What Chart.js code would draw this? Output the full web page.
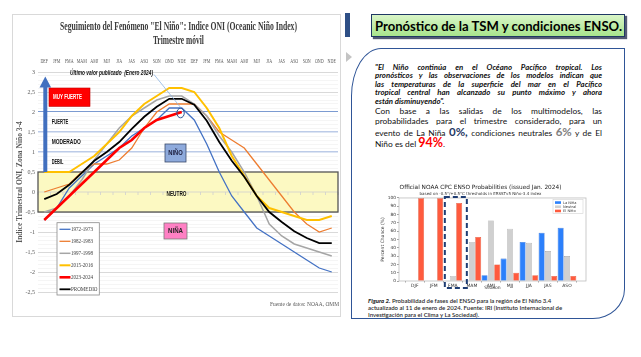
<!DOCTYPE html>
<html><head><meta charset="utf-8">
<script src="https://cdn.jsdelivr.net/npm/chart.js@4.4.1/dist/chart.umd.min.js"></script>
<style>
html,body{margin:0;padding:0;background:#fff;width:641px;height:357px;overflow:hidden;position:relative}
.abs{position:absolute}
.jl{position:absolute;left:375px;width:227px;white-space:nowrap;text-align:justify;text-align-last:justify;line-height:10px;height:10px;font-family:Lato,sans-serif;color:#111}
.ll{position:absolute;left:375px;white-space:nowrap;line-height:10px;height:10px;font-family:Lato,sans-serif;color:#111}
.p1{font-size:7.8px;font-weight:bold;font-style:italic}
.p2{font-size:8.4px}
.cap{position:absolute;left:368px;white-space:nowrap;font-family:Lato,sans-serif;font-size:6px;line-height:7px;height:7px;color:#2a2a2a;font-weight:600}
.big{line-height:10px;font-weight:bold}
</style></head><body>
<canvas id="oni" width="345" height="357" class="abs" style="left:0;top:0"></canvas>
<div class="abs" style="left:345px;top:13px;width:5px;height:24px;background:#2e4f86"></div>
<div class="abs" style="left:346px;top:52px;width:0;height:0;border-left:6px solid #c4c4c4;border-top:5px solid transparent;border-bottom:5px solid transparent"></div>
<div id="tbox" class="abs" style="left:371px;top:14px;width:254px;height:23px;box-sizing:border-box;border:1.5px solid #1f3864;background:linear-gradient(#d9f5c8,#a8e48c);box-shadow:2px 2px 1px rgba(25,35,70,.75);padding-left:2.5px;padding-top:2px;line-height:18px;white-space:nowrap;overflow:visible"><span id="ttxt" style="display:inline-block;font:bold 13px Lato,sans-serif;color:#000;transform-origin:left center">Pronóstico de la TSM y condiciones ENSO.</span></div>
<div class="abs" style="left:351px;top:48px;width:272px;height:269px;border:1.6px solid #2f5597;border-radius:30px 0 32px 0 / 48px 0 30px 0;background:#fff"></div>

<div class="jl p1" style="top:61.5px">"El Niño continúa en el Océano Pacífico tropical. Los</div>
<div class="jl p1" style="top:70.1px">pronósticos y las observaciones de los modelos indican que</div>
<div class="jl p1" style="top:78.7px">las temperaturas de la superficie del mar en el Pacífico</div>
<div class="jl p1" style="top:87.3px">tropical central han alcanzado su punto máximo y ahora</div>
<div class="ll p1" style="top:95.9px">están disminuyendo".</div>
<div class="jl p2" style="top:106px">Con base a las salidas de los multimodelos, las</div>
<div class="jl p2" style="top:115.5px">probabilidades para el trimestre considerado, para un</div>
<div class="jl p2" style="top:126.5px">evento de La Niña <span class="big" style="font-size:11.5px;color:#1f3864">0%,</span> condiciones neutrales <span class="big" style="font-size:11.5px;color:#808080">6%</span> y de El</div>
<div class="ll p2" style="top:138px">Niño es del <span class="big" style="font-size:12.5px;color:#ff0000">94%</span>.</div>

<canvas id="cpc" width="225" height="114" class="abs" style="left:375px;top:179px"></canvas>

<div class="cap" style="top:296.5px"><b><i>Figura 2.</i></b> Probabilidad de fases del ENSO para la región de El Niño 3.4</div>
<div class="cap" style="top:303.5px">actualizado al 11 de enero de 2024. Fuente: IRI (Instituto Internacional de</div>
<div class="cap" style="top:310.5px">Investigación para el Clima y La Sociedad).</div>

<script>
// ---------- DATA: ONI chart ----------
const seasonsONI = ['DEF','JFM','FMA','MAM','AMJ','MJJ','JJA','JAS','ASO','SON','OND','NDE','DEF','JFM','FMA','MAM','AMJ','MJJ','JJA','JAS','ASO','SON','OND','NDE'];
const oni1972 = [-0.7,-0.4,0.1,0.4,0.7,0.9,1.1,1.4,1.6,1.8,2.1,2.1,1.8,1.2,0.5,-0.1,-0.5,-0.9,-1.1,-1.3,-1.5,-1.7,-1.9,-2.0];
const oni1982 = [0.0,0.1,0.2,0.5,0.7,0.7,0.8,1.1,1.6,2.0,2.2,2.2,2.2,1.9,1.5,1.3,1.1,0.7,0.3,-0.1,-0.5,-0.8,-1.0,-0.9];
const oni1997 = [-0.5,-0.4,-0.1,0.3,0.8,1.2,1.6,1.9,2.1,2.3,2.4,2.4,2.2,1.9,1.4,1.0,0.5,-0.1,-0.8,-1.1,-1.3,-1.4,-1.5,-1.6];
const oni2015 = [0.5,0.5,0.5,0.7,0.9,1.2,1.5,1.9,2.2,2.4,2.6,2.6,2.5,2.1,1.6,0.9,0.4,-0.1,-0.4,-0.5,-0.6,-0.7,-0.7,-0.6];
const oni2023 = [-0.7,-0.4,-0.1,0.2,0.5,0.8,1.1,1.3,1.6,1.8,1.9,2.0,null,null,null,null,null,null,null,null,null,null,null,null];
const oniPromedio = [-0.18,-0.05,0.18,0.48,0.78,1.0,1.25,1.58,1.88,2.13,2.33,2.33,2.18,1.78,1.25,0.78,0.38,-0.1,-0.5,-0.75,-0.98,-1.15,-1.28,-1.28];
const seriesNames = ['1972-1973','1982-1983','1997-1998','2015-2016','2023-2024','PROMEDIO'];

// ---------- DATA: CPC probabilities ----------
const seasonsCPC = ['DJF','JFM','FMA','MAM','AMJ','MJJ','JJA','JAS','ASO'];
const probLaNina = [0,0,0,0,7,27,47,58,64];
const probNeutral = [0,0,6,47,73,63,46,36,30];
const probElNino = [100,100,94,53,20,10,7,6,6];

// ---------- styles ----------
const seriesColors = ['#4472c4','#ed7d31','#a5a5a5','#ffc000','#ff0000','#000000'];
const seriesWidths = [1.3,1.3,1.5,2,2.6,1.8];
const seriesOrder = [5,4,3,2,1,0];

function fitText(c, s, x, y, font, color, align, w, sx){
  c.save(); c.font = font; c.fillStyle = color; c.textBaseline = 'middle'; c.textAlign = 'left';
  const nat = c.measureText(s).width;
  const k = w ? w / nat : (sx || 1);
  const tw = nat * k;
  const x0 = align === 'center' ? x - tw / 2 : align === 'right' ? x - tw : x;
  c.translate(x0, y); c.scale(k, 1); c.fillText(s, 0, 0); c.restore();
}
const near = (a, b) => Math.abs(a - b) < 1e-6;
const isMajor = v => Math.abs(v * 2 - Math.round(v * 2)) < 1e-6;

const oniDeco = {
  id: 'oniDeco',
  beforeDraw(chart){
    const c = chart.ctx; c.save();
    c.fillStyle = '#fff'; c.fillRect(12, 14, 329, 303);
    c.strokeStyle = '#d9d9d9'; c.lineWidth = 1; c.strokeRect(12.5, 14.5, 328, 302);
    c.restore();
  },
  beforeDatasetsDraw(chart){
    const {ctx: c, chartArea: a, scales: {x, y}} = chart;
    const yt = y.getPixelForValue(0.5), yb = y.getPixelForValue(-0.5), y0 = y.getPixelForValue(0);
    c.save();
    c.fillStyle = '#fcf9c2'; c.fillRect(a.left, yt, a.right - a.left, yb - yt);
    c.strokeStyle = '#cfcfcf'; c.lineWidth = 0.8; c.beginPath();
    c.moveTo(a.left, y0); c.lineTo(a.right, y0);
    const n = seasonsONI.length;
    for (let i = 0; i <= n; i++){ const px = a.left + (a.right - a.left) * i / n; c.moveTo(px, y0); c.lineTo(px, y0 + 3); }
    c.stroke();
    c.strokeStyle = '#555'; c.lineWidth = 1.3; c.strokeRect(a.left, yt, a.right - a.left, yb - yt);
    fitText(c, 'NEUTRO', (x.getPixelForValue(10) + x.getPixelForValue(11)) / 2 + 1, y.getPixelForValue(-0.05), 'bold 7px "Liberation Sans"', '#111', 'center', 20);
    c.restore();
  },
  afterDatasetsDraw(chart){
    const {ctx: c, chartArea: a, scales: {x, y}} = chart;
    c.save();
    // big blue arrow
    const ax = a.left + 7.3;
    c.fillStyle = '#4270bf';
    c.fillRect(ax - 2, 86, 4, y.getPixelForValue(0.5) - 86);
    c.beginPath(); c.moveTo(ax - 5.8, 87.5); c.lineTo(ax + 5.8, 87.5); c.lineTo(ax, 76.5); c.closePath(); c.fill();
    // MUY FUERTE box
    const m1 = y.getPixelForValue(2.6), m2 = y.getPixelForValue(2.14);
    c.fillStyle = '#ff0000'; c.fillRect(49, m1, 41, m2 - m1);
    c.strokeStyle = '#c00000'; c.lineWidth = 0.6; c.strokeRect(49, m1, 41, m2 - m1);
    fitText(c, 'MUY FUERTE', 53, (m1 + m2) / 2, 'bold 7px "Liberation Sans"', '#fff', 'left', 29);
    fitText(c, 'FUERTE', 51.7, y.getPixelForValue(1.75), 'bold 7px "Liberation Sans"', '#111', 'left', 16.7);
    fitText(c, 'MODERADO', 51.7, y.getPixelForValue(1.25), 'bold 7px "Liberation Sans"', '#111', 'left', 29);
    fitText(c, 'DEBIL', 51.7, y.getPixelForValue(0.75), 'bold 7px "Liberation Sans"', '#111', 'left', 11.7);
    // NIÑO / NIÑA boxes
    const bc = (x.getPixelForValue(10) + x.getPixelForValue(11)) / 2;
    const n1 = y.getPixelForValue(1.2), n2 = y.getPixelForValue(0.75);
    c.fillStyle = '#8eaadc'; c.fillRect(bc - 10.5, n1, 21, n2 - n1);
    c.strokeStyle = '#3a4a6a'; c.lineWidth = 0.8; c.strokeRect(bc - 10.5, n1, 21, n2 - n1);
    fitText(c, 'NIÑO', bc, (n1 + n2) / 2, 'bold 7.5px "Liberation Sans"', '#1a1a3a', 'center', 14.5);
    const k1 = y.getPixelForValue(-0.775), k2 = y.getPixelForValue(-1.175);
    c.fillStyle = '#ff80c4'; c.fillRect(bc - 11.5, k1, 23, k2 - k1);
    c.strokeStyle = '#7a7a7a'; c.strokeRect(bc - 11.5, k1, 23, k2 - k1);
    fitText(c, 'NIÑA', bc, (k1 + k2) / 2, 'bold 7.5px "Liberation Sans"', '#222', 'center', 15);
    // last value annotation
    fitText(c, 'Último valor publicado  (Enero 2024)', 70, y.getPixelForValue(3) + 1, 'italic bold 7px "Liberation Sans"', '#111', 'left', 83);
    const ex = x.getPixelForValue(11) - 1.2, ey = y.getPixelForValue(2.0) + 1;
    c.strokeStyle = '#8db4e2'; c.lineWidth = 0.8; c.beginPath(); c.moveTo(154, 74.5); c.lineTo(ex + 0.5, ey - 5); c.stroke();
    c.strokeStyle = '#2f5597'; c.lineWidth = 1; c.beginPath(); c.ellipse(ex, ey, 3.7, 4.8, 0, 0, Math.PI * 2); c.stroke();
    // legend
    c.fillStyle = '#fff'; c.fillRect(57, 222.7, 42.3, 72.3);
    c.strokeStyle = '#8a8a8a'; c.lineWidth = 0.8; c.strokeRect(57, 222.7, 42.3, 72.3);
    seriesNames.forEach((nm, i) => {
      const ly = 229.3 + i * 12;
      c.strokeStyle = seriesColors[i]; c.lineWidth = seriesWidths[i]; c.beginPath(); c.moveTo(59.5, ly); c.lineTo(70.5, ly); c.stroke();
      fitText(c, nm, 71, ly, '6.5px "Liberation Serif"', '#404040', 'left', null, 0.78);
    });
    c.restore();
  },
  afterDraw(chart){
    const {ctx: c, scales: {x}} = chart;
    fitText(c, 'Seguimiento del Fenómeno "El Niño": Indice ONI (Oceanic Niño Index)', 178.5, 27, 'bold 11.5px "Liberation Serif"', '#3a3a3a', 'center', 237);
    fitText(c, 'Trimestre móvil', 178.4, 41, 'bold 11.5px "Liberation Serif"', '#3a3a3a', 'center', 51);
    seasonsONI.forEach((s, i) => fitText(c, s, x.getPixelForValue(i), 61, '6.5px "Liberation Serif"', '#595959', 'center', null, 0.62));
    fitText(c, 'Fuente de datos: NOAA, OMM', 339, 304, '7px "Liberation Serif"', '#595959', 'right', 69);
  }
};

const oniData = [oni1972, oni1982, oni1997, oni2015, oni2023, oniPromedio];
new Chart(document.getElementById('oni'), {
  type: 'line',
  data: {
    labels: seasonsONI,
    datasets: oniData.map((d, i) => ({
      label: seriesNames[i], data: d, borderColor: seriesColors[i], backgroundColor: seriesColors[i],
      borderWidth: seriesWidths[i], pointRadius: 0, tension: 0, fill: false, order: seriesOrder[i], spanGaps: false
    }))
  },
  options: {
    responsive: false, animation: false, devicePixelRatio: 1,
    layout: {padding: {left: 12, top: 56, right: 7, bottom: 65}},
    plugins: {legend: {display: false}, tooltip: {enabled: false}, title: {display: false}},
    scales: {
      x: {type: 'category', position: 'top', offset: true, grid: {display: false}, border: {display: false},
          ticks: {display: false}, afterFit: s => { s.height = 16; }},
      y: {min: -2.5, max: 3, afterFit: s => { s.width = 26; },
          border: {display: false},
          ticks: {stepSize: 0.1, autoSkip: false, padding: 3, color: '#595959',
                  font: {family: 'Liberation Serif', size: 6},
                  callback: v => isMajor(v) ? String(Math.round(v * 10) / 10).replace('.', ',') : ''},
          grid: {drawTicks: false,
                 color: ctx => { const v = ctx.tick ? ctx.tick.value : 0;
                   if (near(v, 2)) return '#7c9bd1';
                   if (near(v, 1.5) || near(v, 1)) return '#bccbe8';
                   return isMajor(v) ? '#d9d9d9' : '#f1f1f1'; },
                 lineWidth: ctx => { const v = ctx.tick ? ctx.tick.value : 0;
                   if (near(v, 1.5) || near(v, 1)) return 1.6;
                   return isMajor(v) ? 1 : 0.7; }},
          title: {display: true, text: 'Indice Trimestral ONI, Zona Niño 3-4', color: '#595959',
                  font: {family: 'Liberation Serif', size: 7.5, weight: 'bold'}, padding: {top: 4, bottom: 0}}}
    }
  },
  plugins: [oniDeco]
});

// ---------- CPC bar chart ----------
const cpcDeco = {
  id: 'cpcDeco',
  afterDatasetsDraw(chart){
    const {ctx: c, chartArea: a, scales: {x}} = chart;
    c.save();
    c.strokeStyle = '#bdbdbd'; c.lineWidth = 0.8; c.strokeRect(a.left, a.top, a.right - a.left, a.bottom - a.top);
    const lx = a.right - 33, ly = a.top + 1.5;
    c.fillStyle = 'rgba(255,255,255,0.92)'; c.fillRect(lx, ly, 30, 14);
    c.strokeStyle = '#d3d3d3'; c.lineWidth = 0.6; c.strokeRect(lx, ly, 30, 14);
    chart.data.datasets.forEach((d, i) => {
      const yy = ly + 3 + i * 4.2;
      c.fillStyle = d.backgroundColor; c.fillRect(lx + 2, yy - 1.2, 6, 2.6);
      c.fillStyle = '#333'; c.font = '3.6px "DejaVu Sans"'; c.textBaseline = 'middle'; c.textAlign = 'left';
      c.fillText(d.label, lx + 10, yy + 0.2);
    });
    const cx = x.getPixelForValue(2);
    c.setLineDash([5, 3]); c.strokeStyle = '#1f3d73'; c.lineWidth = 2;
    c.strokeRect(cx - 8, a.top - 1, 22, a.bottom - a.top + 8);
    c.restore();
  }
};
const barStyles = [
  {bg: '#2c80fb', bd: '#1a60d0'},
  {bg: '#d0d0d0', bd: '#a9a9a9'},
  {bg: '#ff5b3e', bd: '#d94526'}
];
const cpcNames = ['La Niña', 'Neutral', 'El Niño'];
new Chart(document.getElementById('cpc'), {
  type: 'bar',
  data: {
    datasets: [probLaNina, probNeutral, probElNino].map((d, k) => ({
      label: cpcNames[k], data: d.map((v, i) => ({x: i, y: v})),
      backgroundColor: barStyles[k].bg, borderColor: barStyles[k].bd, borderWidth: 0.6,
      categoryPercentage: 1, barPercentage: 0.94
    }))
  },
  options: {
    responsive: false, animation: false, devicePixelRatio: 1,
    layout: {padding: {left: 0, right: 14, top: 0, bottom: 0}},
    plugins: {
      legend: {display: false}, tooltip: {enabled: false},
      title: {display: true, text: 'Official NOAA CPC ENSO Probabilities (issued Jan. 2024)', color: '#222',
              font: {family: 'DejaVu Sans', size: 5.8, weight: 'normal'}, padding: {top: 5, bottom: 1}},
      subtitle: {display: true, text: 'based on -0.5°/+0.5°C thresholds in ERSSTv5 Niño-3.4 index', color: '#333',
              font: {family: 'DejaVu Sans', size: 4}, padding: {top: 0, bottom: 1.2}}
    },
    scales: {
      x: {type: 'linear', min: -0.83, max: 9.0, offset: false,
          afterBuildTicks: s => { s.ticks = seasonsCPC.map((_, i) => ({value: i})); },
          afterFit: s => { s.height = 12; },
          border: {display: false},
          grid: {drawOnChartArea: false, tickLength: 1.5, color: '#444', lineWidth: 0.5},
          ticks: {autoSkip: false, maxRotation: 0, padding: 0.5, color: '#333', font: {family: 'DejaVu Sans', size: 4.5},
                  callback: v => seasonsCPC[v]},
          title: {display: true, text: 'Season', color: '#333', font: {family: 'DejaVu Sans', size: 4.5}, padding: {top: 0, bottom: 2}}},
      y: {min: 0, max: 100, afterFit: s => { s.width = 24; },
          border: {display: false},
          grid: {drawOnChartArea: false, tickLength: 2, color: '#444', lineWidth: 0.5},
          ticks: {stepSize: 10, autoSkip: false, padding: 1, color: '#333', font: {family: 'DejaVu Sans', size: 4.3}},
          title: {display: true, text: 'Percent Chance (%)', color: '#333', font: {family: 'DejaVu Sans', size: 4.5}, padding: {top: 5, bottom: 0}}}
    }
  },
  plugins: [cpcDeco]
});

// ---------- fit HTML text ----------
(function(){
  const t = document.getElementById('ttxt');
  const w = t.getBoundingClientRect().width;
  t.style.transform = 'scaleX(' + (247 / w) + ')';
  document.querySelectorAll('.jl').forEach(el => {
    let fs = parseFloat(getComputedStyle(el).fontSize);
    let guard = 0;
    while (el.scrollWidth > el.clientWidth + 0.5 && guard++ < 30) { fs -= 0.2; el.style.fontSize = fs + 'px'; }
  });
})();
</script>
</body></html>
